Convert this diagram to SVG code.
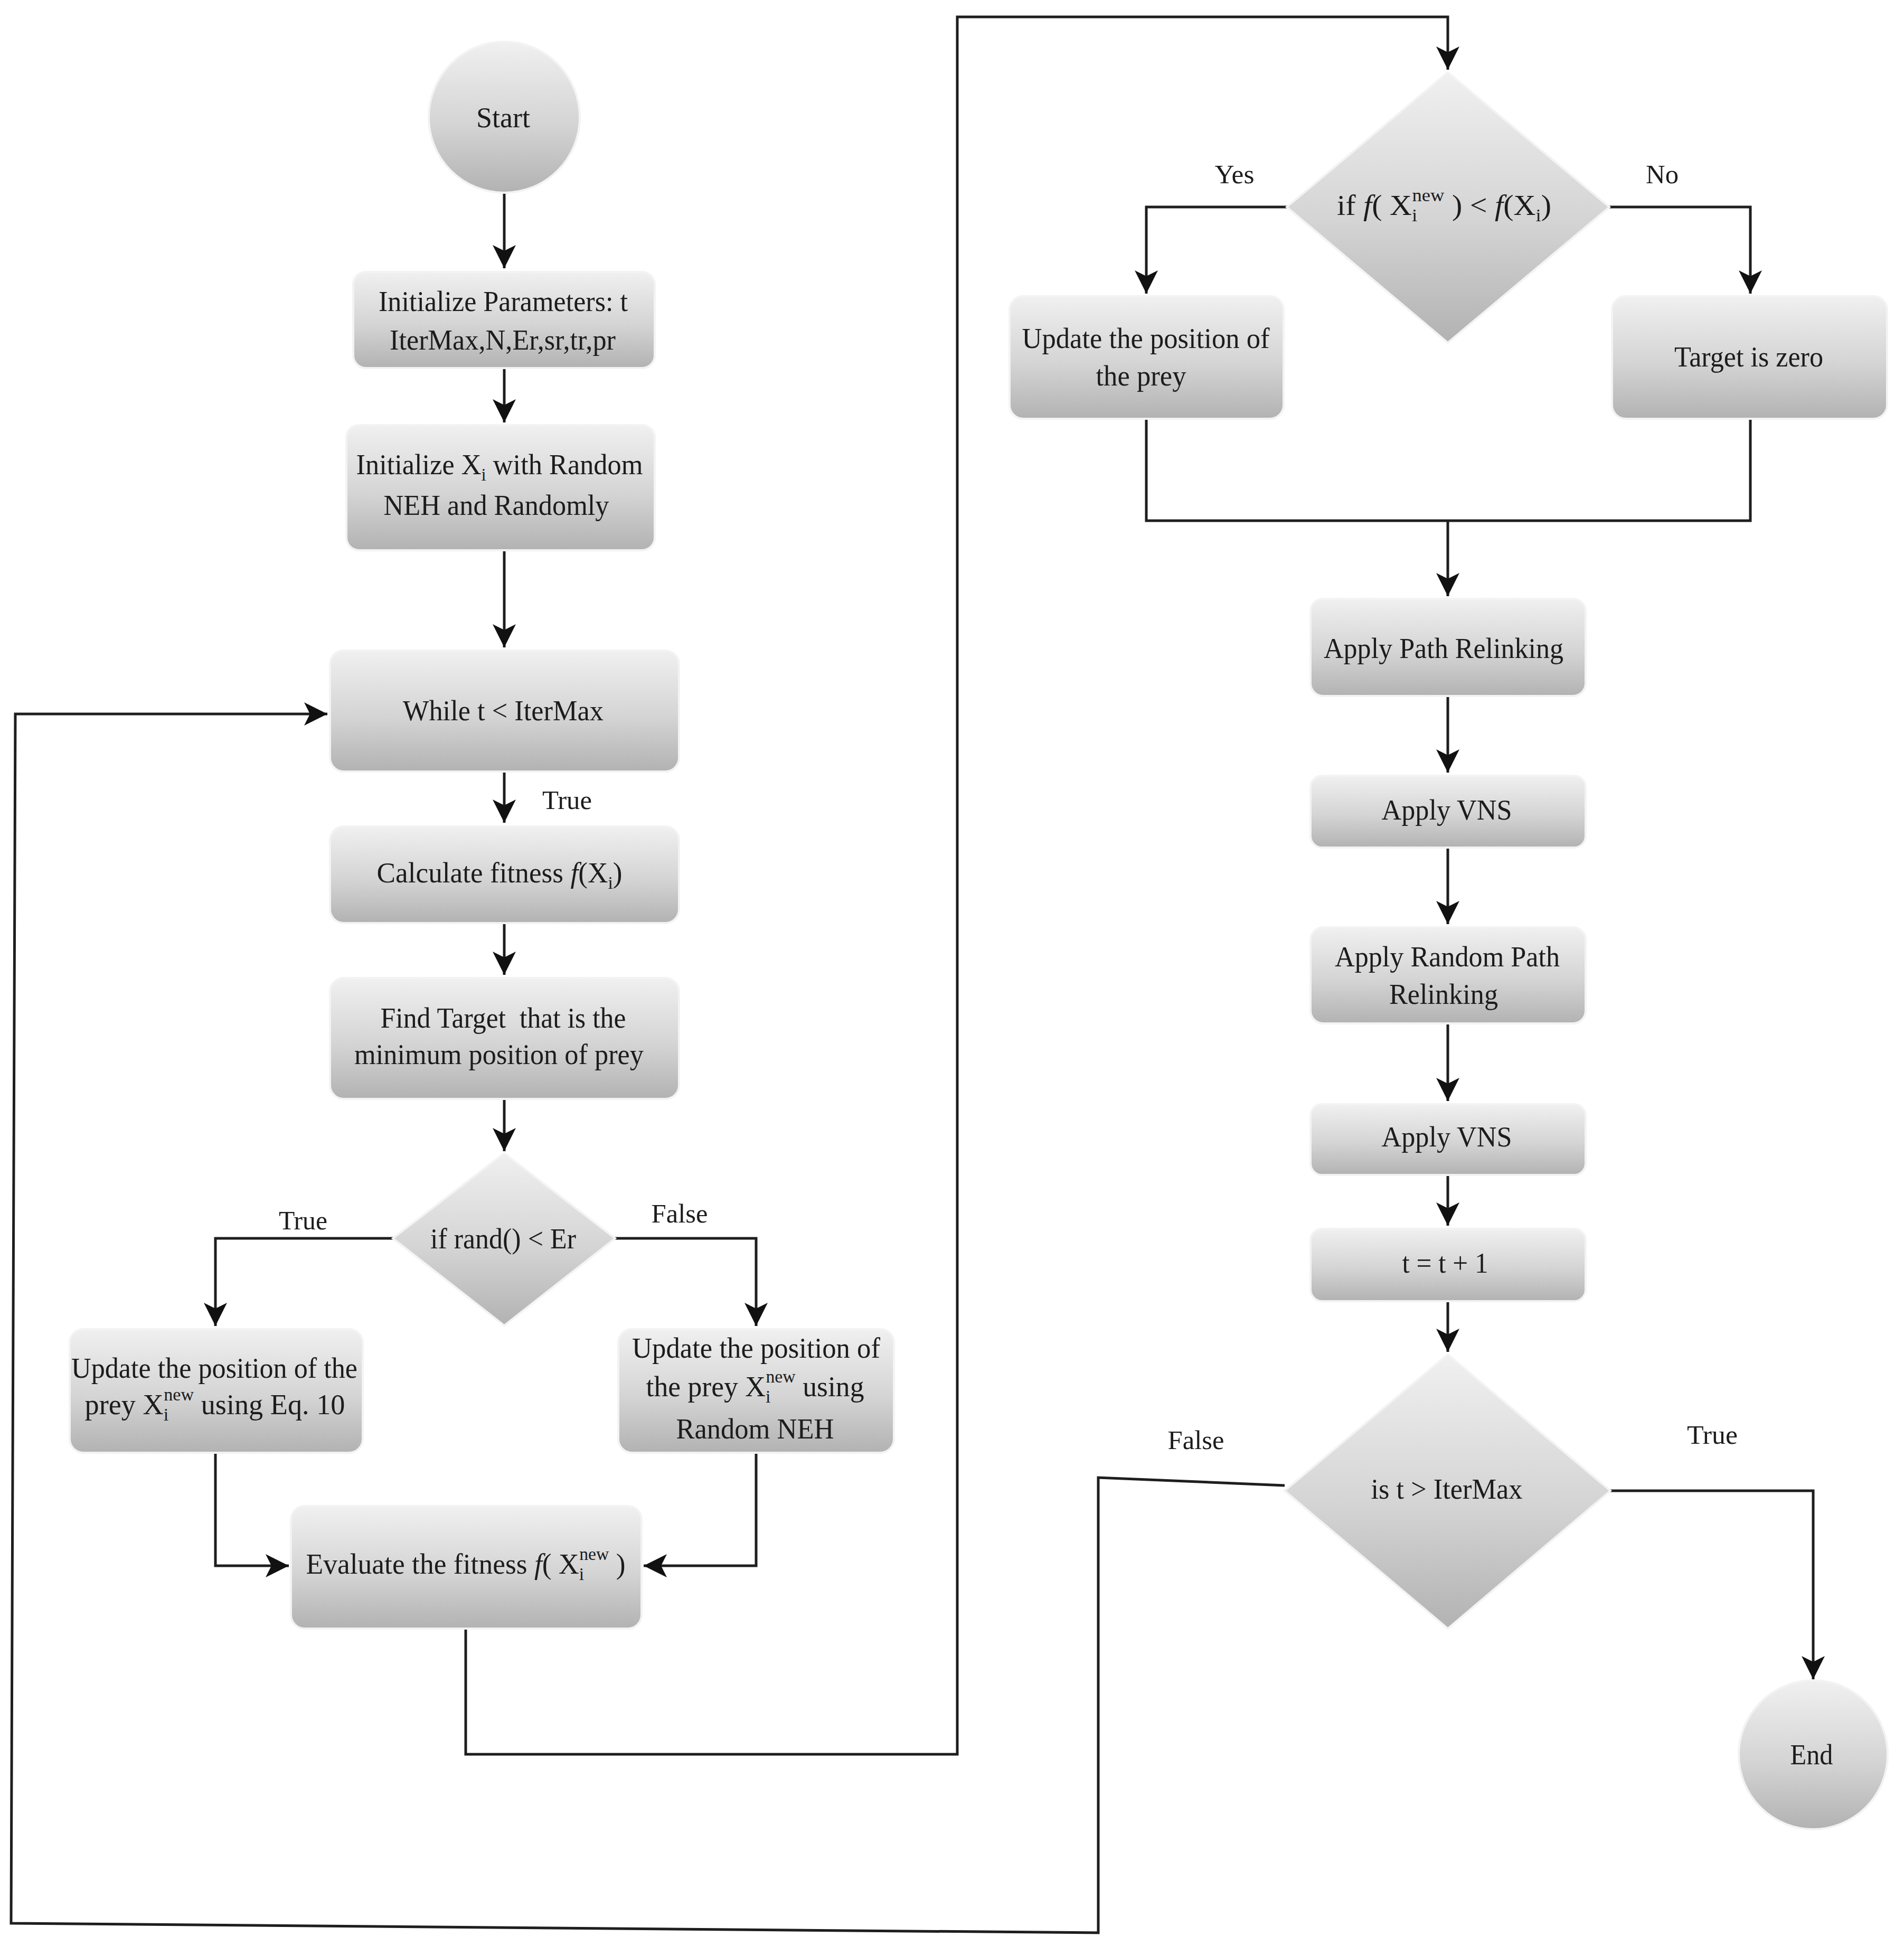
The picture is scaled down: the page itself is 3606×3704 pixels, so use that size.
<svg xmlns="http://www.w3.org/2000/svg" width="3606" height="3704" viewBox="0 0 3606 3704">
<style>
.bx{fill:url(#g);stroke:#f3f3f3;stroke-width:4}
.t{font-family:"Liberation Serif","Times New Roman",serif;font-size:54px;fill:#1c1c1c;text-anchor:middle}
.lb{font-family:"Liberation Serif","Times New Roman",serif;font-size:50px;fill:#1c1c1c;text-anchor:middle}
.sb{font-size:34px}
.sp{font-size:34px}
.it{font-style:italic}
.c{fill:none;stroke:#1e1e1e;stroke-width:5;stroke-linejoin:miter}
.a{marker-end:url(#ah)}
</style>
<defs>
<linearGradient id="g" x1="0" y1="0" x2="0" y2="1">
<stop offset="0" stop-color="#f0f0f0"/>
<stop offset="0.55" stop-color="#d4d4d4"/>
<stop offset="1" stop-color="#b2b2b2"/>
</linearGradient>
<marker id="ah" markerUnits="userSpaceOnUse" markerWidth="44" markerHeight="44" viewBox="0 0 40 40" refX="40" refY="20" orient="auto">
<path d="M0,0 L40,20 L0,40 L10,20 Z" fill="#111"/>
</marker>
</defs>
<rect width="3606" height="3704" fill="#fff"/>

<g id="connectors">
<path class="c a" d="M955,365 V508"/>
<path class="c a" d="M955,697 V800"/>
<path class="c a" d="M955,1042 V1226"/>
<path class="c a" d="M955,1461 V1558"/>
<path class="c a" d="M955,1748 V1846"/>
<path class="c a" d="M955,2081 V2180"/>
<path class="c a" d="M744,2345 H408 V2511"/>
<path class="c a" d="M1165,2345 H1432 V2511"/>
<path class="c a" d="M408,2751 V2965 H547"/>
<path class="c a" d="M1432,2751 V2965 H1219"/>
<path class="c a" d="M882,3084 V3322 H1813 V32 H2742 V132"/>
<path class="c a" d="M2437,392 H2171 V556"/>
<path class="c a" d="M3048,392 H3315 V556"/>
<path class="c" d="M2171,793 V986 H3315 V793"/>
<path class="c a" d="M2742,986 V1129"/>
<path class="c a" d="M2742,1318 V1463"/>
<path class="c a" d="M2742,1605 V1750"/>
<path class="c a" d="M2742,1938 V2085"/>
<path class="c a" d="M2742,2225 V2321"/>
<path class="c a" d="M2742,2464 V2560"/>
<path class="c a" d="M3050,2823 H3434 V3180"/>
<path class="c a" d="M2433,2813 L2080,2798 V3660 L21,3642 L29,1352 H620"/>
</g>

<g id="labels">
<text class="lb" x="1074" y="1532" textLength="94" lengthAdjust="spacingAndGlyphs">True</text>
<text class="lb" x="574" y="2328" textLength="92" lengthAdjust="spacingAndGlyphs">True</text>
<text class="lb" x="1287" y="2315" textLength="107" lengthAdjust="spacingAndGlyphs">False</text>
<text class="lb" x="2338" y="347" textLength="75" lengthAdjust="spacingAndGlyphs">Yes</text>
<text class="lb" x="3148" y="347" textLength="62" lengthAdjust="spacingAndGlyphs">No</text>
<text class="lb" x="2265" y="2744" textLength="107" lengthAdjust="spacingAndGlyphs">False</text>
<text class="lb" x="3243" y="2734" textLength="96" lengthAdjust="spacingAndGlyphs">True</text>
</g>

<g id="n-start">
<circle class="bx" cx="955" cy="222" r="143"/>
<text class="t" x="953" y="241">Start</text>
</g>

<g id="n-init-params">
<rect class="bx" x="669" y="515" width="571" height="182" rx="24"/>
<text class="t" x="953" y="589" textLength="472" lengthAdjust="spacingAndGlyphs">Initialize Parameters: t</text>
<text class="t" x="952" y="662" textLength="428" lengthAdjust="spacingAndGlyphs">IterMax,N,Er,sr,tr,pr</text>
</g>

<g id="n-init-x">
<rect class="bx" x="656" y="805" width="584" height="237" rx="24"/>
<text class="t" x="946" y="898" textLength="543" lengthAdjust="spacingAndGlyphs">Initialize X<tspan class="sb" dy="12">i</tspan><tspan dy="-12"> with Random</tspan></text>
<text class="t" x="940" y="975" textLength="427" lengthAdjust="spacingAndGlyphs">NEH and Randomly</text>
</g>

<g id="n-while">
<rect class="bx" x="625" y="1232" width="661" height="229" rx="26"/>
<text class="t" x="953" y="1364" textLength="380" lengthAdjust="spacingAndGlyphs">While t &lt; IterMax</text>
</g>

<g id="n-calc">
<rect class="bx" x="625" y="1565" width="661" height="183" rx="26"/>
<text class="t" x="946" y="1671" textLength="465" lengthAdjust="spacingAndGlyphs">Calculate fitness <tspan class="it">f</tspan>(X<tspan class="sb" dy="12">i</tspan><tspan dy="-12">)</tspan></text>
</g>

<g id="n-find">
<rect class="bx" x="625" y="1852" width="661" height="229" rx="26"/>
<text class="t" x="953" y="1946" textLength="465" lengthAdjust="spacingAndGlyphs" xml:space="preserve">Find Target  that is the</text>
<text class="t" x="945" y="2015" textLength="548" lengthAdjust="spacingAndGlyphs">minimum position of prey</text>
</g>

<g id="n-if-rand">
<polygon class="bx" points="955,2184 1165,2345 955,2510 744,2345"/>
<text class="t" x="953" y="2364" textLength="276" lengthAdjust="spacingAndGlyphs">if rand() &lt; Er</text>
</g>

<g id="n-update-eq10">
<rect class="bx" x="132" y="2517" width="555" height="234" rx="26"/>
<text class="t" x="406" y="2609" textLength="542" lengthAdjust="spacingAndGlyphs">Update the position of the</text>
<text class="t" x="407" y="2678" textLength="493" lengthAdjust="spacingAndGlyphs">prey X<tspan class="sb" dy="12">i</tspan><tspan class="sp" dx="-9" dy="-38">new</tspan><tspan dy="26"> using Eq. 10</tspan></text>
</g>

<g id="n-update-neh">
<rect class="bx" x="1171" y="2517" width="522" height="234" rx="26"/>
<text class="t" x="1432" y="2571" textLength="470" lengthAdjust="spacingAndGlyphs">Update the position of</text>
<text class="t" x="1430" y="2644" textLength="413" lengthAdjust="spacingAndGlyphs">the prey X<tspan class="sb" dy="12">i</tspan><tspan class="sp" dx="-9" dy="-38">new</tspan><tspan dy="26"> using</tspan></text>
<text class="t" x="1430" y="2724" textLength="299" lengthAdjust="spacingAndGlyphs">Random NEH</text>
</g>

<g id="n-evaluate">
<rect class="bx" x="551" y="2852" width="664" height="232" rx="26"/>
<text class="t" x="882" y="2980" textLength="605" lengthAdjust="spacingAndGlyphs">Evaluate the fitness <tspan class="it">f</tspan>( X<tspan class="sb" dy="12">i</tspan><tspan class="sp" dx="-9" dy="-38">new</tspan><tspan dy="26"> )</tspan></text>
</g>

<g id="n-if-f">
<polygon class="bx" points="2742,137 3048,392 2742,649 2437,392"/>
<text class="t" x="2735" y="407" textLength="406" lengthAdjust="spacingAndGlyphs">if <tspan class="it">f</tspan>( X<tspan class="sb" dy="12">i</tspan><tspan class="sp" dx="-9" dy="-38">new</tspan><tspan dy="26"> ) &lt; </tspan><tspan class="it">f</tspan>(X<tspan class="sb" dy="12">i</tspan><tspan dy="-12">)</tspan></text>
</g>

<g id="n-update-prey">
<rect class="bx" x="1912" y="561" width="519" height="232" rx="26"/>
<text class="t" x="2170" y="659" textLength="469" lengthAdjust="spacingAndGlyphs">Update the position of</text>
<text class="t" x="2161" y="730" textLength="171" lengthAdjust="spacingAndGlyphs">the prey</text>
</g>

<g id="n-target-zero">
<rect class="bx" x="3053" y="561" width="521" height="232" rx="26"/>
<text class="t" x="3312" y="694" textLength="282" lengthAdjust="spacingAndGlyphs">Target is zero</text>
</g>

<g id="n-path-relinking">
<rect class="bx" x="2482" y="1134" width="521" height="184" rx="24"/>
<text class="t" x="2734" y="1246" textLength="454" lengthAdjust="spacingAndGlyphs">Apply Path Relinking</text>
</g>

<g id="n-vns-1">
<rect class="bx" x="2482" y="1469" width="521" height="136" rx="22"/>
<text class="t" x="2740" y="1552" textLength="247" lengthAdjust="spacingAndGlyphs">Apply VNS</text>
</g>

<g id="n-random-path-relinking">
<rect class="bx" x="2482" y="1756" width="521" height="182" rx="24"/>
<text class="t" x="2741" y="1830" textLength="426" lengthAdjust="spacingAndGlyphs">Apply Random Path</text>
<text class="t" x="2734" y="1901" textLength="206" lengthAdjust="spacingAndGlyphs">Relinking</text>
</g>

<g id="n-vns-2">
<rect class="bx" x="2482" y="2091" width="521" height="134" rx="22"/>
<text class="t" x="2740" y="2171" textLength="247" lengthAdjust="spacingAndGlyphs">Apply VNS</text>
</g>

<g id="n-increment">
<rect class="bx" x="2482" y="2327" width="521" height="137" rx="22"/>
<text class="t" x="2737" y="2410" textLength="163" lengthAdjust="spacingAndGlyphs">t = t + 1</text>
</g>

<g id="n-is-t">
<polygon class="bx" points="2742,2565 3050,2823 2742,3084 2433,2823"/>
<text class="t" x="2740" y="2838" textLength="287" lengthAdjust="spacingAndGlyphs">is t &gt; IterMax</text>
</g>

<g id="n-end">
<circle class="bx" cx="3434" cy="3323" r="141"/>
<text class="t" x="3431" y="3341" textLength="81" lengthAdjust="spacingAndGlyphs">End</text>
</g>
</svg>
